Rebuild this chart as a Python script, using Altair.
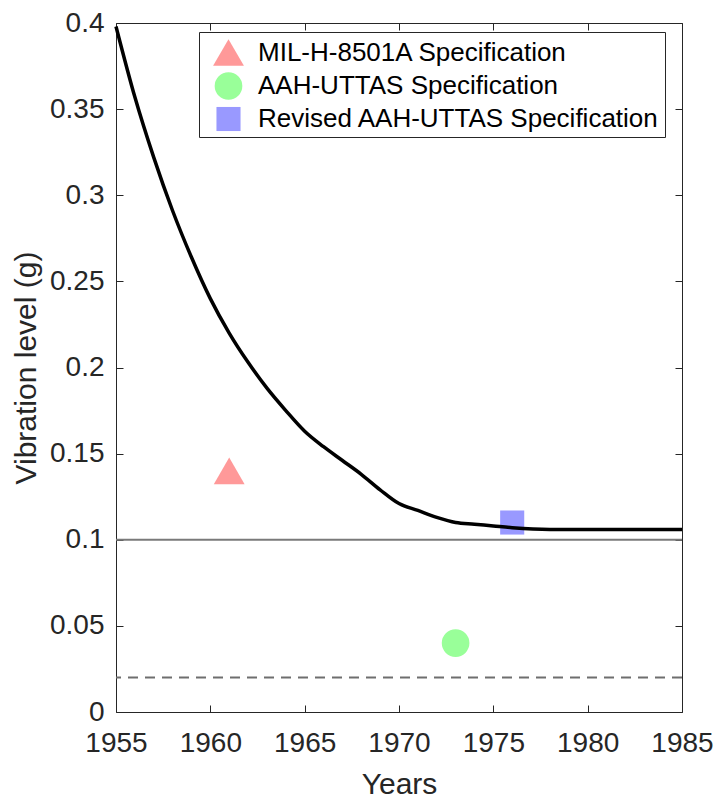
import altair as alt
import pandas as pd

# ---- data ----
years = [1955, 1956, 1957, 1958, 1959, 1960, 1961, 1962, 1963, 1964, 1965,
         1966, 1967, 1968, 1969, 1970, 1971, 1972, 1973, 1974, 1975, 1976,
         1978, 1980, 1985]
levels = [0.398, 0.357, 0.322, 0.291, 0.264, 0.240, 0.220, 0.203, 0.188, 0.175,
          0.163, 0.154, 0.146, 0.138, 0.129, 0.121, 0.117, 0.113, 0.110, 0.109,
          0.108, 0.107, 0.106, 0.106, 0.106]

spec_names = ["MIL-H-8501A Specification", "AAH-UTTAS Specification",
              "Revised AAH-UTTAS Specification"]
spec_years = [1961, 1973, 1976]
spec_levels = [0.14, 0.04, 0.11]
spec_shapes = ["triangle-up", "circle", "square"]
spec_colors = ["#ff9999", "#99ff99", "#9999ff"]
spec_sizes = [950, 580, 370]

solid_level = [0.1]
dashed_level = [0.02]

x_ticks = [1955, 1960, 1965, 1970, 1975, 1980, 1985]
y_ticks = [0, 0.05, 0.1, 0.15, 0.2, 0.25, 0.3, 0.35, 0.4]

FONT = "Liberation Sans"
TXT = "#262626"

curve_df = pd.DataFrame({"year": years, "level": levels})
spec_df = pd.DataFrame({"spec": spec_names, "year": spec_years, "level": spec_levels})
solid_df = pd.DataFrame({"level": solid_level})
dashed_df = pd.DataFrame({"level": dashed_level})

xs = alt.Scale(domain=[1955, 1985], nice=False, zero=False)
ys = alt.Scale(domain=[0, 0.4], nice=False)

TICK = 7

x_axis = alt.Axis(values=x_ticks, format="d", orient="bottom", offset=-TICK, tickSize=TICK,
                  tickWidth=1, domain=False, grid=False, labelPadding=17, labelFlush=False,
                  labelOverlap=False, title="Years", titlePadding=12,
                  labelFontSize=28, titleFontSize=30, labelFont=FONT, titleFont=FONT,
                  labelColor=TXT, titleColor=TXT, tickColor=TXT, titleFontWeight="normal")
y_axis = alt.Axis(values=y_ticks, format="~g", orient="left", offset=-TICK, tickSize=TICK,
                  tickWidth=1, domain=False, grid=False, labelPadding=12, labelFlush=False,
                  labelOverlap=False, title="Vibration level (g)", titlePadding=8,
                  labelFontSize=28, titleFontSize=30, labelFont=FONT, titleFont=FONT,
                  labelColor=TXT, titleColor=TXT, tickColor=TXT, titleFontWeight="normal")
x_top = alt.Axis(values=x_ticks, orient="top", offset=-TICK, tickSize=TICK, tickWidth=1,
                 domain=False, grid=False, labels=False, title=None, tickColor=TXT)
y_right = alt.Axis(values=y_ticks, orient="right", offset=-TICK, tickSize=TICK, tickWidth=1,
                   domain=False, grid=False, labels=False, title=None, tickColor=TXT)

solid = alt.Chart(solid_df).mark_rule(color="#7a7a7a", strokeWidth=2).encode(
    y=alt.Y("level:Q", scale=ys, axis=None)
)
dashed = alt.Chart(dashed_df).mark_rule(color="#6e6e6e", strokeWidth=2,
                                        strokeDash=[10, 7]).encode(
    y=alt.Y("level:Q", scale=ys, axis=None)
)

legend = alt.Legend(title=None, orient="none", legendX=83, legendY=9,
                    labelFont=FONT, labelFontSize=26, labelColor="#000000",
                    strokeColor=TXT, fillColor="white", padding=5,
                    symbolOffset=9, rowPadding=6, labelOffset=14, symbolOpacity=1,
                    symbolStrokeWidth=0, labelLimit=600)

points = alt.Chart(spec_df).mark_point(filled=True, opacity=1, strokeWidth=0).encode(
    x=alt.X("year:Q", scale=xs, axis=None),
    y=alt.Y("level:Q", scale=ys, axis=None),
    color=alt.Color("spec:N", scale=alt.Scale(domain=spec_names, range=spec_colors),
                    legend=legend, sort=spec_names),
    shape=alt.Shape("spec:N", scale=alt.Scale(domain=spec_names, range=spec_shapes),
                    legend=legend, sort=spec_names),
    size=alt.Size("spec:N", scale=alt.Scale(domain=spec_names, range=spec_sizes),
                  legend=legend, sort=spec_names),
)

curve = alt.Chart(curve_df).mark_line(color="black", strokeWidth=3.5,
                                      interpolate="monotone").encode(
    x=alt.X("year:Q", scale=xs, axis=x_axis),
    y=alt.Y("level:Q", scale=ys, axis=y_axis),
)

mirror = alt.Chart(curve_df).mark_line(opacity=0).encode(
    x=alt.X("year:Q", scale=xs, axis=x_top),
    y=alt.Y("level:Q", scale=ys, axis=y_right),
)

chart = alt.layer(solid, dashed, points, curve, mirror).resolve_axis(
    x="independent", y="independent"
).properties(
    width=566, height=689,
    autosize=alt.AutoSizeParams(type="none"),
    padding={"left": 116, "top": 23, "right": 37, "bottom": 90},
    background="white",
).configure_view(stroke=TXT, strokeWidth=1)

chart.save("out.html", embed_options={"renderer": "svg", "actions": False})
